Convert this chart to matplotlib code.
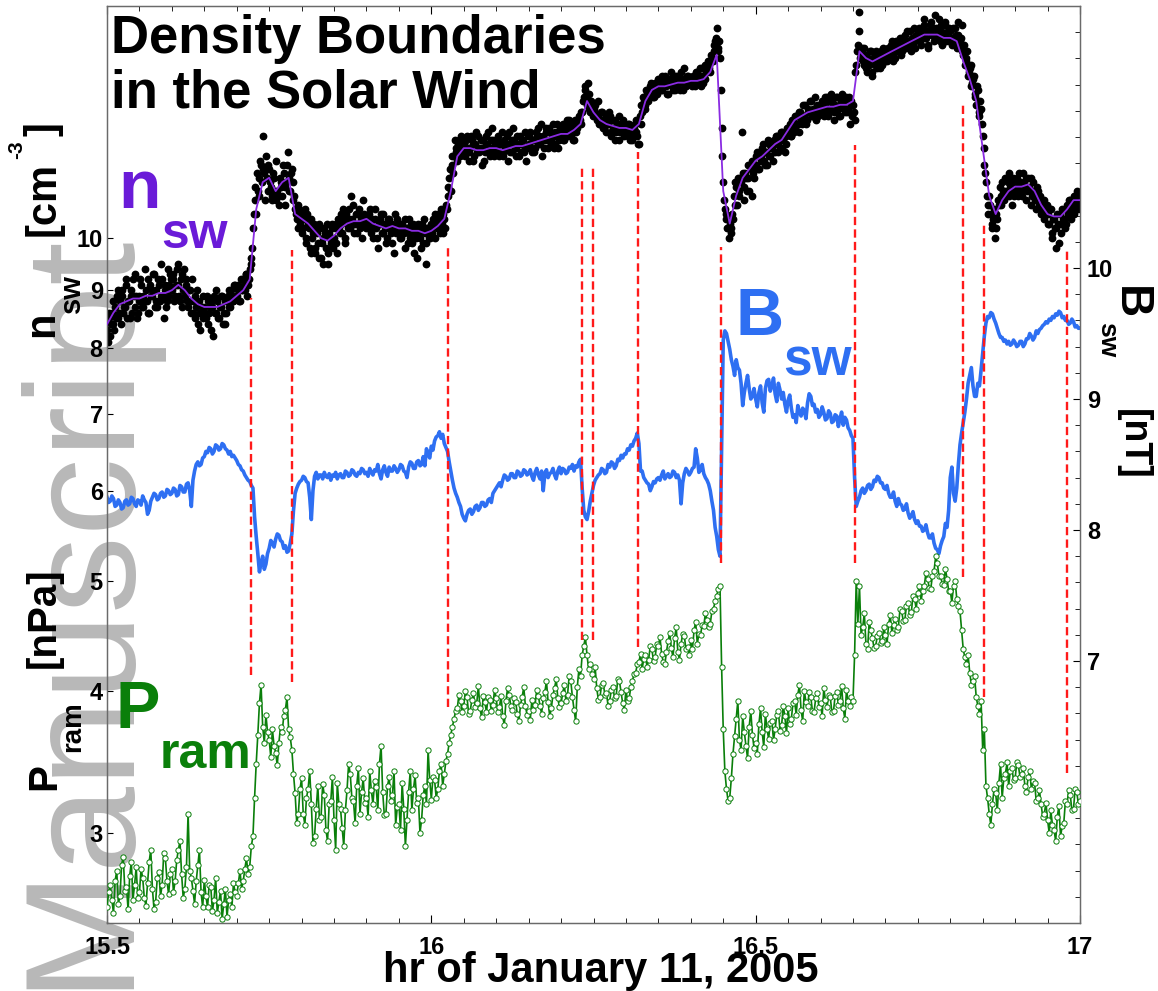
import numpy as np
import matplotlib
matplotlib.use("Agg")
import matplotlib.pyplot as plt
from matplotlib.ticker import MultipleLocator, NullLocator

plt.rcParams['font.family'] = ['Liberation Sans', 'DejaVu Sans']
plt.rcParams['font.weight'] = 'bold'

W, H = 1158.0, 991.0

# ---------------- data ----------------
# smoothed density (purple line), 0.01 hr steps from 15.5 to 17
n_line = [8.4, 8.6, 8.75, 8.8, 8.85, 8.85, 8.9, 8.9, 8.95, 8.95,
          9.0, 9.1, 9.0, 8.85, 8.75, 8.7, 8.7, 8.7, 8.75, 8.8,
          8.9, 9.0, 9.2, 10.6, 11.2, 11.3, 11.0, 11.2, 11.3, 10.5,
          10.4, 10.3, 10.15, 10.0, 9.95, 10.05, 10.2, 10.3, 10.35, 10.35,
          10.4, 10.3, 10.25, 10.2, 10.25, 10.2, 10.2, 10.15, 10.15, 10.1,
          10.15, 10.25, 10.4, 11.0, 11.8, 12.0, 12.0, 11.95, 11.95, 12.0,
          12.0, 11.95, 12.0, 12.05, 12.05, 12.1, 12.15, 12.2, 12.25, 12.3,
          12.35, 12.35, 12.45, 12.6, 13.2, 12.9, 12.7, 12.6, 12.55, 12.5,
          12.5, 12.45, 12.6, 13.2, 13.5, 13.6, 13.6, 13.65, 13.7, 13.7,
          13.75, 13.75, 13.8, 14.0, 14.5, 11.0, 10.3, 10.9, 11.3, 11.5,
          11.7, 11.8, 11.95, 12.1, 12.2, 12.45, 12.7, 12.8, 12.9, 12.95,
          13.0, 13.05, 13.05, 13.1, 13.1, 13.2, 14.6, 14.4, 14.3, 14.4,
          14.5, 14.6, 14.7, 14.8, 14.9, 15.0, 15.1, 15.1, 15.1, 15.0,
          15.0, 14.9, 14.3, 13.8, 13.2, 12.0, 10.9, 10.5, 10.8, 11.0,
          11.1, 11.1, 11.15, 11.0, 10.7, 10.5, 10.45, 10.45, 10.6, 10.8,
          10.8]

# density samples (black dots), 0.0025 hr steps starting 15.5
n_dots = [8.3, 8.5, 8.2, 8.6, 8.4, 8.7, 8.9, 8.5, 8.8, 9.0, 8.6, 8.7, 9.1, 8.8, 8.5, 8.9, 9.2, 8.7, 8.9, 8.6,
          8.9, 9.1, 8.7, 8.8, 9.0, 9.2, 8.6, 8.9, 9.0, 9.3, 8.8, 8.7, 9.1, 8.9, 9.2, 8.5, 9.0, 8.8, 9.1, 9.3,
          9.0, 9.2, 8.9, 9.4, 9.1, 8.8, 9.3, 9.0, 8.9, 9.2, 8.7, 9.0, 8.8, 8.6, 8.9, 8.7, 8.4, 8.8, 8.6, 8.9,
          8.7, 8.5, 8.8, 8.6, 8.3, 8.7, 8.9, 8.6, 8.8, 8.5, 8.7, 8.9, 8.6, 8.4, 8.8, 9.0, 8.7, 8.9, 8.8, 9.1,
          8.9, 9.1, 8.8, 9.0, 9.2, 9.0, 9.3, 9.1, 9.4, 9.6, 10.2, 10.8, 10.5, 11.0, 11.3, 11.6, 12.3, 11.4, 11.8, 11.0,
          11.5, 11.1, 10.9, 11.3, 10.8, 11.0, 10.7, 11.2, 10.9, 11.4, 11.1, 11.6, 11.3, 11.0, 11.5, 10.8, 10.6, 10.4, 10.7, 10.3,
          10.5, 10.2, 10.6, 10.0, 10.3, 9.8, 10.4, 10.1, 9.7, 10.2, 9.9, 10.3, 9.6, 10.0, 10.2, 9.8, 9.5, 10.1, 9.9, 10.3,
          10.0, 10.3, 9.7, 10.2, 10.5, 10.1, 10.4, 9.9, 10.3, 10.6, 10.2, 10.4, 10.7, 10.3, 10.1, 10.5, 10.2, 10.4, 10.8, 10.3,
          10.4, 10.2, 10.6, 10.3, 10.0, 10.4, 10.2, 9.8, 10.3, 10.5, 10.1, 10.3, 9.9, 10.2, 10.4, 10.1, 10.3, 9.7, 10.2, 10.4,
          10.2, 10.0, 10.3, 10.1, 9.8, 10.2, 10.4, 10.0, 9.9, 10.3, 10.1, 9.6, 10.2, 10.0, 10.3, 9.9, 10.1, 9.5, 10.2, 10.0,
          10.2, 10.4, 10.0, 10.3, 10.5, 10.2, 10.6, 10.1, 10.4, 10.7, 10.9, 11.3, 11.0, 11.6, 11.8, 12.0, 11.7, 12.2, 11.9, 12.1,
          12.1, 11.8, 12.3, 11.9, 12.0, 12.2, 11.7, 12.1, 11.9, 12.3, 12.0, 11.6, 12.2, 11.9, 12.1, 12.4, 11.8, 12.0, 12.2, 11.9,
          12.0, 12.3, 11.8, 12.1, 11.9, 12.2, 12.0, 11.7, 12.4, 12.1, 11.9, 12.2, 12.0, 12.3, 11.8, 12.1, 12.2, 11.9, 12.4, 12.0,
          12.1, 12.4, 11.9, 12.2, 12.0, 12.3, 12.5, 12.1, 11.8, 12.3, 12.2, 12.5, 12.0, 12.4, 12.2, 12.6, 12.1, 12.3, 12.0, 12.4,
          12.3, 12.6, 12.2, 12.5, 12.4, 12.7, 12.3, 12.5, 12.2, 12.6, 12.5, 12.8, 12.6, 12.9, 13.3, 13.6, 13.1, 13.4, 12.9, 13.1,
          12.9, 13.1, 12.7, 12.8, 12.6, 12.9, 12.5, 12.7, 12.4, 12.6, 12.8, 12.3, 12.5, 12.7, 12.4, 12.6, 12.2, 12.5, 12.7, 12.4,
          12.5, 12.3, 12.6, 12.4, 12.2, 12.5, 12.7, 12.3, 12.1, 12.6, 12.9, 13.2, 13.0, 13.4, 13.3, 13.6, 13.5, 13.3, 13.7, 13.4,
          13.6, 13.8, 13.5, 13.7, 13.9, 13.6, 13.4, 13.8, 13.7, 13.5, 13.9, 13.6, 13.8, 13.7, 14.0, 13.5, 13.8, 13.6, 13.9, 13.7,
          13.8, 13.6, 13.9, 13.7, 14.0, 13.8, 13.6, 14.1, 13.9, 13.8, 14.1, 14.2, 14.0, 14.4, 14.6, 14.9, 15.3, 14.7, 14.4, 12.5,
          11.2, 10.6, 10.4, 10.2, 10.3, 10.1, 10.4, 10.7, 11.1, 11.3, 10.9, 11.2, 11.4, 10.8, 11.3, 11.6, 11.0, 11.5, 11.7, 11.3,
          11.6, 11.9, 11.5, 11.8, 12.0, 11.7, 11.9, 11.6, 12.1, 11.8, 12.0, 12.2, 11.9, 12.3, 12.1, 12.0, 12.4, 12.2, 11.9, 12.3,
          12.4, 12.6, 12.3, 12.7, 12.5, 12.8, 12.6, 12.9, 12.7, 13.1, 12.8, 12.6, 13.0, 12.9, 13.2, 12.8, 13.0, 12.7, 13.1, 12.9,
          13.0, 13.2, 12.8, 13.1, 13.3, 12.9, 13.0, 13.2, 12.7, 13.1, 13.3, 13.0, 12.8, 13.2, 13.1, 12.9, 13.3, 13.0, 12.6, 13.2,
          13.1, 12.7, 14.2, 14.8, 15.8, 14.5, 14.3, 14.7, 14.1, 14.4, 14.2, 14.6, 14.0, 14.3, 14.5, 14.1, 14.4, 14.6, 14.2, 14.5,
          14.6, 14.3, 14.7, 14.5, 14.9, 14.6, 14.4, 14.8, 14.7, 15.0, 14.6, 14.8, 15.1, 14.7, 14.9, 15.2, 14.8, 15.0, 14.7, 15.1,
          15.0, 15.3, 14.8, 15.1, 15.4, 15.0, 14.7, 15.2, 15.5, 15.1, 14.9, 15.3, 15.0, 15.6, 15.2, 14.8, 15.1, 15.4, 15.0, 14.9,
          15.2, 14.8, 15.0, 15.3, 14.7, 15.1, 14.9, 15.4, 14.5, 14.2, 14.4, 13.9, 14.1, 13.6, 13.8, 13.4, 13.1, 13.5, 12.8, 13.0,
          12.3, 11.6, 11.2, 10.7, 10.9, 10.5, 10.3, 10.6, 10.2, 10.4, 10.7, 10.9, 11.2, 10.8, 11.0, 11.3, 10.9, 11.1, 10.7, 11.2,
          11.1, 11.3, 10.9, 11.2, 11.0, 11.4, 11.1, 10.8, 11.3, 11.0, 10.7, 11.2, 10.9, 10.6, 11.0, 10.8, 10.5, 10.7, 10.4, 10.6,
          10.5, 10.3, 10.6, 10.1, 10.4, 10.2, 10.5, 9.9, 10.3, 10.6, 10.4, 10.2, 10.7, 10.5, 10.8, 10.6, 10.9, 10.7, 11.0, 10.8,
          10.7]

# second set of density samples, 0.0025 hr steps starting 15.50125
n_dots_b = [8.1, 8.6, 8.4, 8.8, 8.3, 8.5, 9.0, 8.6, 8.4, 8.9, 8.7, 9.2, 8.5, 8.8, 9.0, 8.6, 8.9, 9.3, 8.5, 8.8,
            9.2, 8.7, 8.9, 9.4, 8.8, 8.6, 9.1, 8.9, 9.3, 8.7, 9.0, 9.2, 8.8, 9.5, 8.9, 9.1, 8.7, 9.4, 8.9, 9.2,
            9.3, 8.8, 9.1, 9.5, 8.9, 9.2, 8.7, 9.4, 9.1, 8.8, 9.0, 8.6, 9.2, 8.8, 8.5, 9.0, 8.6, 8.3, 8.7, 8.5,
            8.6, 8.9, 8.4, 8.7, 8.8, 8.2, 8.6, 9.0, 8.5, 8.7, 8.9, 8.4, 8.8, 8.6, 8.9, 8.7, 9.0, 8.8, 9.1, 8.9,
            9.0, 8.8, 9.2, 9.0, 9.1, 9.3, 8.9, 9.2, 9.5, 9.8, 10.5, 11.1, 11.4, 10.9, 11.7, 11.2, 11.5, 10.8, 11.3, 11.6,
            11.2, 10.8, 11.4, 11.0, 11.7, 10.9, 11.3, 11.1, 11.6, 10.7, 11.2, 11.9, 11.0, 11.4, 11.2, 10.9, 10.5, 10.2, 10.6, 10.4,
            10.1, 10.4, 9.9, 10.5, 10.2, 9.7, 10.0, 10.3, 9.8, 10.1, 9.6, 10.2, 9.9, 9.5, 10.1, 10.3, 9.7, 10.0, 10.2, 9.8,
            10.2, 9.9, 10.4, 10.1, 10.3, 10.6, 10.0, 10.5, 10.2, 10.4, 10.9, 10.3, 10.1, 10.5, 10.3, 10.6, 10.4, 10.0, 10.5, 10.2,
            10.3, 10.5, 10.1, 10.4, 10.2, 10.6, 10.0, 10.3, 10.4, 10.1, 10.5, 10.2, 10.0, 10.4, 10.3, 9.9, 10.2, 10.5, 10.1, 10.3,
            10.0, 10.3, 10.1, 10.4, 10.2, 9.9, 10.1, 10.3, 10.2, 9.7, 10.0, 10.3, 10.1, 9.8, 10.2, 10.4, 9.9, 10.2, 10.0, 10.3,
            10.1, 10.3, 10.5, 10.2, 10.4, 10.1, 10.3, 10.5, 10.2, 10.6, 11.1, 11.5, 11.8, 11.4, 12.2, 11.9, 12.1, 11.8, 12.3, 12.0,
            11.9, 12.2, 12.0, 11.7, 12.3, 12.1, 11.8, 12.4, 12.0, 11.9, 12.2, 12.0, 11.7, 12.3, 12.1, 11.9, 12.2, 12.5, 11.8, 12.1,
            12.2, 11.9, 12.1, 12.4, 11.8, 12.0, 12.3, 12.1, 11.9, 12.2, 12.5, 12.0, 11.8, 12.1, 12.3, 11.9, 12.2, 12.0, 11.7, 12.3,
            12.3, 12.0, 12.2, 11.9, 12.4, 12.1, 12.3, 12.6, 12.2, 12.0, 12.4, 12.2, 12.5, 12.1, 12.3, 12.0, 12.4, 12.6, 12.2, 12.5,
            12.5, 12.2, 12.4, 12.7, 12.3, 12.6, 12.4, 12.2, 12.7, 12.4, 12.6, 12.7, 12.9, 13.2, 13.5, 13.3, 13.7, 13.0, 13.2, 12.8,
            13.0, 12.8, 13.2, 12.6, 12.9, 12.7, 12.5, 12.8, 12.6, 12.9, 12.4, 12.7, 12.5, 12.2, 12.6, 12.8, 12.4, 12.6, 12.3, 12.5,
            12.4, 12.6, 12.2, 12.5, 12.3, 12.6, 12.4, 12.1, 12.8, 13.1, 13.3, 13.1, 13.5, 13.2, 13.4, 13.7, 13.3, 13.6, 13.5, 13.8,
            13.7, 13.5, 13.9, 13.6, 13.8, 13.4, 13.7, 14.0, 13.6, 13.8, 13.5, 13.9, 13.7, 13.5, 13.8, 14.1, 13.6, 13.9, 13.7, 13.8,
            13.7, 13.9, 13.6, 14.0, 13.8, 14.1, 13.9, 13.7, 14.2, 14.0, 14.3, 14.1, 14.5, 14.3, 14.8, 15.0, 14.6, 14.9, 13.5, 11.8,
            10.8, 10.5, 10.2, 10.0, 10.2, 10.5, 10.9, 11.2, 10.7, 11.0, 11.3, 12.4, 11.1, 11.4, 11.0, 11.3, 11.6, 10.9, 11.4, 11.6,
            11.8, 11.5, 11.9, 11.7, 12.1, 11.6, 11.9, 12.2, 11.8, 12.0, 11.7, 12.1, 12.3, 11.9, 12.2, 12.4, 12.0, 12.3, 12.1, 12.5,
            12.5, 12.3, 12.7, 12.4, 12.8, 12.6, 12.4, 12.9, 12.6, 12.8, 13.1, 12.7, 12.9, 13.2, 12.8, 13.0, 13.3, 12.9, 12.8, 13.1,
            13.1, 12.9, 13.3, 13.0, 12.8, 13.2, 13.4, 13.1, 12.9, 13.3, 13.0, 12.8, 13.2, 13.4, 13.0, 13.2, 12.9, 13.3, 13.1, 12.8,
            12.9, 14.0, 14.6, 15.2, 14.4, 14.7, 14.2, 14.5, 14.0, 14.3, 14.6, 13.9, 14.4, 14.2, 14.6, 14.3, 14.1, 14.5, 14.7, 14.3,
            14.4, 14.7, 14.5, 14.8, 14.3, 14.6, 14.9, 14.6, 14.8, 14.5, 15.0, 14.7, 14.9, 15.2, 14.8, 14.6, 15.0, 15.3, 14.9, 15.1,
            15.2, 14.9, 15.3, 15.6, 15.0, 15.2, 14.8, 15.4, 15.1, 15.3, 15.7, 15.0, 15.2, 14.9, 15.4, 15.1, 15.5, 14.9, 15.2, 15.3,
            15.0, 15.3, 14.9, 15.1, 15.5, 14.8, 15.0, 14.6, 14.8, 14.3, 14.6, 14.0, 14.2, 13.7, 13.9, 13.3, 13.6, 12.9, 13.2, 12.6,
            12.0, 11.4, 10.9, 10.5, 10.7, 10.2, 10.4, 10.0, 10.5, 10.8, 11.1, 10.7, 11.0, 11.3, 10.9, 11.2, 11.4, 11.0, 11.3, 10.9,
            11.2, 11.0, 11.4, 11.1, 10.9, 11.2, 11.3, 11.0, 11.1, 11.3, 10.9, 11.0, 10.8, 11.1, 10.7, 10.9, 10.6, 10.8, 10.5, 10.7,
            10.3, 10.6, 10.0, 10.4, 10.2, 9.8, 10.3, 10.5, 10.1, 10.4, 10.6, 10.3, 10.5, 10.8, 10.4, 10.7, 10.5, 10.8, 10.6, 10.9]

# field magnitude B_sw [nT], 0.0025 hr steps
b_sw = [8.25, 8.21, 8.22, 8.26, 8.24, 8.18, 8.19, 8.23, 8.21, 8.16, 8.17, 8.22, 8.23, 8.19, 8.20, 8.25, 8.24, 8.20, 8.18, 8.23,
        8.22, 8.19, 8.26, 8.23, 8.21, 8.12, 8.15, 8.22, 8.25, 8.28, 8.27, 8.23, 8.24, 8.28, 8.29, 8.25, 8.26, 8.31, 8.30, 8.27,
        8.28, 8.32, 8.31, 8.26, 8.27, 8.34, 8.33, 8.29, 8.29, 8.35, 8.36, 8.30, 8.18, 8.38, 8.45, 8.50, 8.52, 8.49, 8.50, 8.55,
        8.56, 8.60, 8.59, 8.63, 8.62, 8.58, 8.60, 8.65, 8.64, 8.61, 8.62, 8.66, 8.65, 8.62, 8.61, 8.58, 8.60, 8.56, 8.57, 8.55,
        8.53, 8.50, 8.49, 8.46, 8.45, 8.42, 8.40, 8.38, 8.37, 8.34, 8.32, 8.10, 7.95, 7.82, 7.68, 7.75, 7.80, 7.70, 7.74, 7.82,
        7.86, 7.92, 7.90, 7.87, 7.93, 7.97, 7.96, 7.92, 7.91, 7.86, 7.88, 7.83, 7.84, 7.90, 7.97, 8.15, 8.28, 8.32, 8.35, 8.37,
        8.38, 8.41, 8.40, 8.37, 8.36, 8.25, 8.08, 8.30, 8.41, 8.44, 8.39, 8.42, 8.42, 8.39, 8.44, 8.41, 8.40, 8.43, 8.38, 8.42,
        8.41, 8.44, 8.39, 8.42, 8.43, 8.40, 8.40, 8.45, 8.44, 8.41, 8.42, 8.46, 8.45, 8.42, 8.41, 8.44, 8.43, 8.47, 8.46, 8.43,
        8.44, 8.41, 8.47, 8.44, 8.42, 8.46, 8.45, 8.50, 8.43, 8.39, 8.46, 8.49, 8.44, 8.41, 8.48, 8.45, 8.45, 8.49, 8.47, 8.44,
        8.46, 8.50, 8.49, 8.45, 8.44, 8.40, 8.48, 8.52, 8.51, 8.47, 8.47, 8.52, 8.53, 8.49, 8.50, 8.56, 8.49, 8.62, 8.58, 8.55,
        8.64, 8.61, 8.68, 8.71, 8.72, 8.75, 8.70, 8.73, 8.66, 8.63, 8.60, 8.52, 8.45, 8.38, 8.32, 8.28, 8.25, 8.21, 8.18, 8.12,
        8.09, 8.07, 8.12, 8.15, 8.16, 8.12, 8.14, 8.18, 8.19, 8.15, 8.17, 8.21, 8.21, 8.18, 8.19, 8.23, 8.24, 8.21, 8.28, 8.30,
        8.32, 8.34, 8.36, 8.33, 8.38, 8.42, 8.41, 8.38, 8.39, 8.43, 8.43, 8.40, 8.40, 8.45, 8.44, 8.41, 8.42, 8.46, 8.45, 8.42,
        8.43, 8.46, 8.41, 8.38, 8.44, 8.47, 8.42, 8.39, 8.45, 8.30, 8.43, 8.46, 8.40, 8.43, 8.44, 8.47, 8.42, 8.39, 8.45, 8.48,
        8.43, 8.47, 8.46, 8.43, 8.44, 8.48, 8.47, 8.50, 8.45, 8.49, 8.48, 8.52, 8.54, 8.32, 8.15, 8.10, 8.08, 8.14, 8.22, 8.28,
        8.34, 8.38, 8.40, 8.42, 8.43, 8.47, 8.46, 8.43, 8.44, 8.50, 8.48, 8.52, 8.51, 8.47, 8.49, 8.54, 8.53, 8.57, 8.55, 8.58,
        8.58, 8.62, 8.61, 8.65, 8.64, 8.68, 8.70, 8.74, 8.66, 8.45, 8.45, 8.40, 8.38, 8.36, 8.35, 8.30, 8.33, 8.37, 8.36, 8.39,
        8.40, 8.38, 8.42, 8.45, 8.39, 8.41, 8.43, 8.40, 8.41, 8.45, 8.44, 8.40, 8.42, 8.38, 8.20, 8.36, 8.43, 8.47, 8.45, 8.42,
        8.44, 8.47, 8.48, 8.62, 8.55, 8.44, 8.46, 8.50, 8.43, 8.40, 8.38, 8.35, 8.30, 8.22, 8.15, 8.02, 7.95, 7.85, 7.80, 8.60,
        9.45, 9.52, 9.50, 9.44, 9.38, 9.30, 9.25, 9.18, 9.30, 9.24, 9.22, 9.12, 8.95, 9.05, 9.12, 9.18, 9.08, 9.00, 9.02, 9.08,
        9.00, 8.94, 9.05, 9.10, 8.97, 8.90, 9.08, 9.14, 9.15, 9.06, 9.10, 9.16, 9.04, 8.98, 9.12, 9.07, 9.00, 9.05, 8.96, 8.90,
        8.99, 9.03, 8.93, 8.86, 8.88, 8.82, 8.95, 8.90, 8.87, 8.93, 8.91, 8.85, 8.97, 9.04, 9.02, 8.95, 8.96, 8.90, 8.92, 8.86,
        8.88, 8.94, 8.90, 8.84, 8.85, 8.91, 8.89, 8.82, 8.83, 8.88, 8.87, 8.79, 8.85, 8.90, 8.80, 8.86, 8.84, 8.78, 8.76, 8.72,
        8.70, 8.40, 8.18, 8.22, 8.25, 8.30, 8.32, 8.28, 8.30, 8.34, 8.35, 8.31, 8.33, 8.38, 8.37, 8.41, 8.40, 8.36, 8.36, 8.32,
        8.31, 8.34, 8.28, 8.25, 8.25, 8.29, 8.22, 8.18, 8.24, 8.20, 8.19, 8.15, 8.16, 8.20, 8.13, 8.09, 8.11, 8.14, 8.08, 8.05,
        8.07, 8.03, 8.03, 7.99, 8.00, 8.04, 7.98, 7.94, 7.94, 7.97, 7.90, 7.86, 7.85, 7.82, 7.88, 7.92, 7.95, 8.05, 8.02, 8.15,
        8.40, 8.48, 8.28, 8.22, 8.32, 8.50, 8.65, 8.74, 8.82, 8.90, 9.00, 9.12, 9.18, 9.24, 9.10, 9.02, 9.02, 9.12, 9.10, 9.22,
        9.35, 9.48, 9.58, 9.63, 9.62, 9.66, 9.65, 9.61, 9.58, 9.54, 9.50, 9.47, 9.47, 9.44, 9.45, 9.42, 9.44, 9.41, 9.42, 9.45,
        9.43, 9.40, 9.41, 9.44, 9.44, 9.40, 9.42, 9.46, 9.46, 9.50, 9.48, 9.45, 9.47, 9.52, 9.50, 9.53, 9.54, 9.56, 9.57, 9.59,
        9.58, 9.61, 9.60, 9.63, 9.62, 9.65, 9.64, 9.67, 9.66, 9.62, 9.63, 9.60, 9.60, 9.57, 9.58, 9.61, 9.59, 9.55, 9.56, 9.54,
        9.54]

# ram pressure P_ram [nPa], 0.0025 hr steps
p_ram = [2.58, 2.66, 2.70, 2.62, 2.55, 2.72, 2.78, 2.60, 2.64, 2.81, 2.86, 2.67, 2.69, 2.57, 2.75, 2.83, 2.62, 2.70, 2.80, 2.63,
         2.66, 2.79, 2.74, 2.63, 2.59, 2.71, 2.83, 2.90, 2.68, 2.57, 2.61, 2.74, 2.77, 2.64, 2.70, 2.88, 2.85, 2.72, 2.65, 2.76,
         2.79, 2.66, 2.72, 2.84, 2.90, 2.95, 2.76, 2.63, 2.68, 2.80, 3.12, 2.78, 2.74, 2.67, 2.60, 2.72, 2.81, 2.90, 2.66, 2.58,
         2.73, 2.64, 2.58, 2.70, 2.69, 2.56, 2.62, 2.74, 2.55, 2.61, 2.67, 2.52, 2.60, 2.68, 2.53, 2.62, 2.65, 2.58, 2.71, 2.66,
         2.64, 2.71, 2.78, 2.68, 2.72, 2.79, 2.85, 2.76, 2.80, 2.92, 2.98, 3.22, 3.45, 3.66, 3.90, 4.05, 3.72, 3.60, 3.81, 3.68,
         3.62, 3.50, 3.70, 3.58, 3.53, 3.44, 3.60, 3.72, 3.68, 3.80, 3.85, 3.95, 3.70, 3.64, 3.55, 3.38, 3.25, 3.06, 3.12, 3.28,
         3.35, 3.12, 3.05, 3.22, 3.28, 3.40, 3.18, 2.94, 2.98, 3.15, 3.30, 3.08, 3.10, 3.31, 3.24, 3.02, 2.95, 3.18, 3.20, 3.36,
         3.08, 2.90, 3.32, 3.18, 3.15, 3.03, 2.92, 3.14, 3.27, 3.45, 3.38, 3.22, 3.20, 3.06, 3.30, 3.42, 3.12, 3.26, 3.35, 3.19,
         3.22, 3.10, 3.40, 3.27, 3.18, 3.33, 3.29, 3.14, 3.45, 3.58, 3.26, 3.11, 3.12, 3.30, 3.36, 3.20, 3.24, 3.40, 3.05, 3.16,
         3.18, 3.02, 3.32, 3.15, 2.92, 3.08, 3.26, 3.40, 3.14, 3.28, 3.37, 3.19, 3.22, 3.00, 3.08, 3.24, 3.30, 3.18, 3.55, 3.34,
         3.21, 3.36, 3.34, 3.22, 3.28, 3.40, 3.45, 3.30, 3.38, 3.47, 3.52, 3.60, 3.66, 3.72, 3.78, 3.84, 3.86, 3.97, 3.92, 3.83,
         3.88, 4.00, 3.95, 3.82, 3.84, 3.93, 3.98, 3.87, 3.90, 4.04, 3.86, 3.79, 3.96, 3.91, 3.83, 3.95, 3.93, 3.84, 3.89, 4.01,
         3.94, 3.83, 3.87, 3.96, 3.80, 3.73, 3.92, 4.02, 3.97, 3.88, 3.85, 3.94, 3.91, 3.82, 3.76, 3.89, 3.95, 4.03, 3.88, 3.81,
         3.84, 3.77, 3.93, 3.85, 3.89, 4.01, 3.96, 3.88, 3.82, 3.94, 3.99, 4.08, 3.91, 3.80, 3.86, 3.97, 4.02, 4.10, 3.94, 3.87,
         3.90, 3.98, 4.05, 3.92, 3.97, 4.12, 4.08, 3.95, 3.85, 3.76, 4.03, 4.18, 4.12, 4.30, 4.38, 4.46, 4.30, 4.18, 4.22, 4.14,
         4.10, 4.20, 4.02, 3.93, 3.95, 4.05, 4.06, 3.97, 3.98, 3.88, 3.92, 4.01, 4.03, 3.94, 3.96, 4.10, 4.08, 3.99, 3.90, 3.85,
         4.01, 3.92, 3.94, 4.03, 4.08, 4.14, 4.15, 4.22, 4.24, 4.31, 4.18, 4.27, 4.30, 4.20, 4.26, 4.38, 4.35, 4.25, 4.28, 4.40,
         4.38, 4.46, 4.31, 4.24, 4.22, 4.33, 4.42, 4.50, 4.36, 4.28, 4.45, 4.55, 4.33, 4.26, 4.40, 4.49, 4.47, 4.35, 4.37, 4.30,
         4.43, 4.35, 4.52, 4.60, 4.40, 4.49, 4.48, 4.57, 4.56, 4.68, 4.62, 4.55, 4.58, 4.70, 4.72, 4.80, 4.85, 4.92, 4.95, 4.20,
         3.70, 3.40, 3.28, 3.20, 3.22, 3.35, 3.52, 3.65, 3.78, 3.92, 3.62, 3.55, 3.80, 3.68, 3.58, 3.49, 3.72, 3.84, 3.66, 3.56,
         3.60, 3.52, 3.74, 3.86, 3.68, 3.57, 3.82, 3.70, 3.63, 3.75, 3.76, 3.62, 3.70, 3.81, 3.84, 3.69, 3.73, 3.88, 3.80, 3.67,
         3.86, 3.74, 3.78, 3.90, 3.92, 3.81, 3.97, 4.05, 3.85, 3.76, 4.00, 3.91, 3.88, 3.99, 3.95, 3.84, 3.83, 3.94, 3.98, 3.87,
         3.90, 3.80, 4.02, 3.93, 3.87, 3.97, 3.95, 3.83, 3.84, 3.96, 3.99, 3.89, 3.92, 4.04, 3.86, 3.78, 4.01, 3.92, 3.88, 3.95,
         3.92, 4.30, 5.00, 4.58, 4.95, 4.48, 4.55, 4.68, 4.40, 4.35, 4.60, 4.52, 4.45, 4.36, 4.38, 4.47, 4.50, 4.41, 4.42, 4.55,
         4.48, 4.40, 4.58, 4.66, 4.50, 4.57, 4.63, 4.52, 4.55, 4.72, 4.70, 4.61, 4.62, 4.75, 4.78, 4.66, 4.69, 4.85, 4.82, 4.72,
         4.88, 4.95, 4.80, 4.90, 4.95, 5.08, 5.02, 4.93, 4.92, 5.05, 5.10, 5.25, 5.18, 5.05, 5.05, 4.97, 4.96, 5.12, 5.02, 4.90,
         4.90, 4.78, 4.95, 5.00, 4.82, 4.75, 4.70, 4.52, 4.35, 4.28, 4.22, 4.30, 4.15, 4.05, 4.08, 4.12, 3.95, 3.88, 3.82, 3.92,
         3.55, 3.70, 3.30, 3.22, 3.12, 3.05, 3.18, 3.28, 3.25, 3.14, 3.32, 3.45, 3.22, 3.35, 3.38, 3.46, 3.30, 3.40, 3.42, 3.34,
         3.35, 3.46, 3.44, 3.36, 3.38, 3.42, 3.30, 3.26, 3.36, 3.40, 3.28, 3.33, 3.32, 3.20, 3.22, 3.27, 3.18, 3.10, 3.12, 3.19,
         3.08, 3.00, 3.14, 3.05, 3.02, 2.95, 3.10, 3.17, 2.98, 3.04, 3.06, 3.20, 3.18, 3.27, 3.24, 3.14, 3.15, 3.28, 3.26, 3.18,
         3.20]

# density boundaries (red dashed): time [hr], top and bottom on the left axis
t_bound = [15.722, 15.785, 16.026, 16.232, 16.249, 16.319, 16.447, 16.653, 16.820, 16.852, 16.980]
bound_top = [8.86, 9.77, 9.80, 11.53, 11.53, 11.91, 9.83, 12.07, 13.1, 10.31, 9.80]
bound_bot = [4.13, 4.07, 3.87, 4.43, 4.43, 4.37, 5.18, 5.18, 5.04, 3.95, 3.39]

left_ticks = [3, 4, 5, 6, 7, 8, 9, 10]
right_ticks = [7, 8, 9, 10]
x_ticks = [15.5, 16, 16.5, 17]
x_labels = ['15.5', '16', '16.5', '17']

c_n = '#6a1bd8'
c_nline = '#8a2be2'
c_b = '#2e6ff2'
c_p = '#0a7f0a'
c_bound = '#ff1a1a'


def ftext(px, py, s, **kw):
    # place text using pixel positions of the 1158x991 canvas
    return fig.text(px / W, 1 - py / H, s, **kw)


def main():
    global fig
    t_line = np.linspace(15.5, 17.0, len(n_line))
    t_dots = np.linspace(15.5, 17.0, len(n_dots))
    t_dots_b = np.linspace(15.50125, 16.99875, len(n_dots_b))
    t_b = np.linspace(15.5, 17.0, len(b_sw))
    t_p = np.linspace(15.5, 17.0, len(p_ram))

    fig = plt.figure(figsize=(W / 100, H / 100), dpi=100)
    ax = fig.add_axes([107 / W, 1 - 923 / H, (1080 - 107) / W, (923 - 6) / H])
    ax2 = ax.twinx()
    ax.set_zorder(ax2.get_zorder() + 1)
    ax.patch.set_visible(False)
    ax2.patch.set_visible(False)

    # watermark behind everything
    ftext(122, 989, 'Manuscript', rotation=90, rotation_mode='anchor',
          ha='left', va='baseline', fontsize=112, fontweight='normal',
          color='#b8b8b8', zorder=-5)

    # left axis: log scale shared by density and pressure
    ax.set_yscale('log')
    ax.set_ylim(2.5, 16)
    ax.set_xlim(15.5, 17)
    ax.set_yticks(left_ticks, labels=[str(v) for v in left_ticks])
    ax.yaxis.set_minor_locator(NullLocator())
    ax.set_xticks(x_ticks, labels=x_labels)
    ax.xaxis.set_minor_locator(MultipleLocator(0.05))
    ax.tick_params(axis='both', which='both', direction='in', top=True,
                   right=False, labelsize=17, colors='k')
    ax.tick_params(axis='x', which='major', length=6, pad=9)
    ax.tick_params(axis='x', which='minor', length=3.5)
    ax.tick_params(axis='y', which='major', length=4, pad=3)

    ax2.set_ylim(5, 12)
    ax2.set_yticks(right_ticks, labels=[str(v) for v in right_ticks])
    ax2.yaxis.set_minor_locator(MultipleLocator(0.2))
    ax2.tick_params(axis='y', which='both', direction='in', labelsize=17, pad=5)
    ax2.tick_params(axis='y', which='major', length=5)
    ax2.tick_params(axis='y', which='minor', length=3.5)

    for a in (ax, ax2):
        for sp in a.spines.values():
            sp.set_color('#6a6a6a')
            sp.set_linewidth(0.9)

    # series
    ax.plot(t_dots, n_dots, ls='none', marker='o', ms=4.6, color='k',
            mec='k', zorder=2)
    ax.plot(t_dots_b, n_dots_b, ls='none', marker='o', ms=4.6, color='k',
            mec='k', zorder=2)
    ax.plot(t_line, n_line, color=c_nline, lw=1.3, zorder=3)
    ax2.plot(t_b, b_sw, color=c_b, lw=2.6)
    ax.plot(t_p, p_ram, color=c_p, lw=1.2, marker='o', ms=3.8,
            mfc='white', mec=c_p, mew=0.7, zorder=3)
    ax.vlines(t_bound, bound_bot, bound_top, colors=c_bound,
              linestyles=(0, (3.5, 1.8)), lw=1.7, zorder=4)

    # title
    ftext(111, 53, 'Density Boundaries', fontsize=38, ha='left', va='baseline')
    ftext(111, 107, 'in the Solar Wind', fontsize=38, ha='left', va='baseline')

    # in-plot series names
    ftext(118, 208, 'n', fontsize=50, color=c_n, ha='left', va='baseline')
    ftext(161, 248, 'sw', fontsize=36, color=c_n, ha='left', va='baseline')
    ftext(735, 335, 'B', fontsize=48, color=c_b, ha='left', va='baseline')
    ftext(783, 375, 'sw', fontsize=37, color=c_b, ha='left', va='baseline')
    ftext(115, 728, 'P', fontsize=48, color=c_p, ha='left', va='baseline')
    ftext(160, 768, 'ram', fontsize=36, color=c_p, ha='left', va='baseline')

    # left axis labels (rotated, pieced together)
    rot = dict(rotation=90, rotation_mode='anchor', ha='left', va='baseline')
    ftext(53, 337, 'n', fontsize=30, **rot)
    ftext(80, 313, 'sw', fontsize=21, **rot)
    ftext(55, 236, '[cm', fontsize=30, **rot)
    ftext(22, 159, '-3', fontsize=15, **rot)
    ftext(55, 136, ']', fontsize=30, **rot)

    ftext(55, 790, 'P', fontsize=29, **rot)
    ftext(80, 752, 'ram', fontsize=20, **rot)
    ftext(55, 668, '[nPa]', fontsize=29, **rot)

    # right axis label
    rot_r = dict(rotation=-90, rotation_mode='anchor', ha='left', va='baseline')
    ftext(1118, 286, 'B', fontsize=33, **rot_r)
    ftext(1100, 322, 'sw', fontsize=19, **rot_r)
    ftext(1123, 409, '[nT]', fontsize=27, **rot_r)

    # x label
    ftext(601, 982, 'hr of January 11, 2005', fontsize=30, ha='center',
          va='baseline')

    fig.savefig('out.png', dpi=100)


if __name__ == "__main__":

    main()
